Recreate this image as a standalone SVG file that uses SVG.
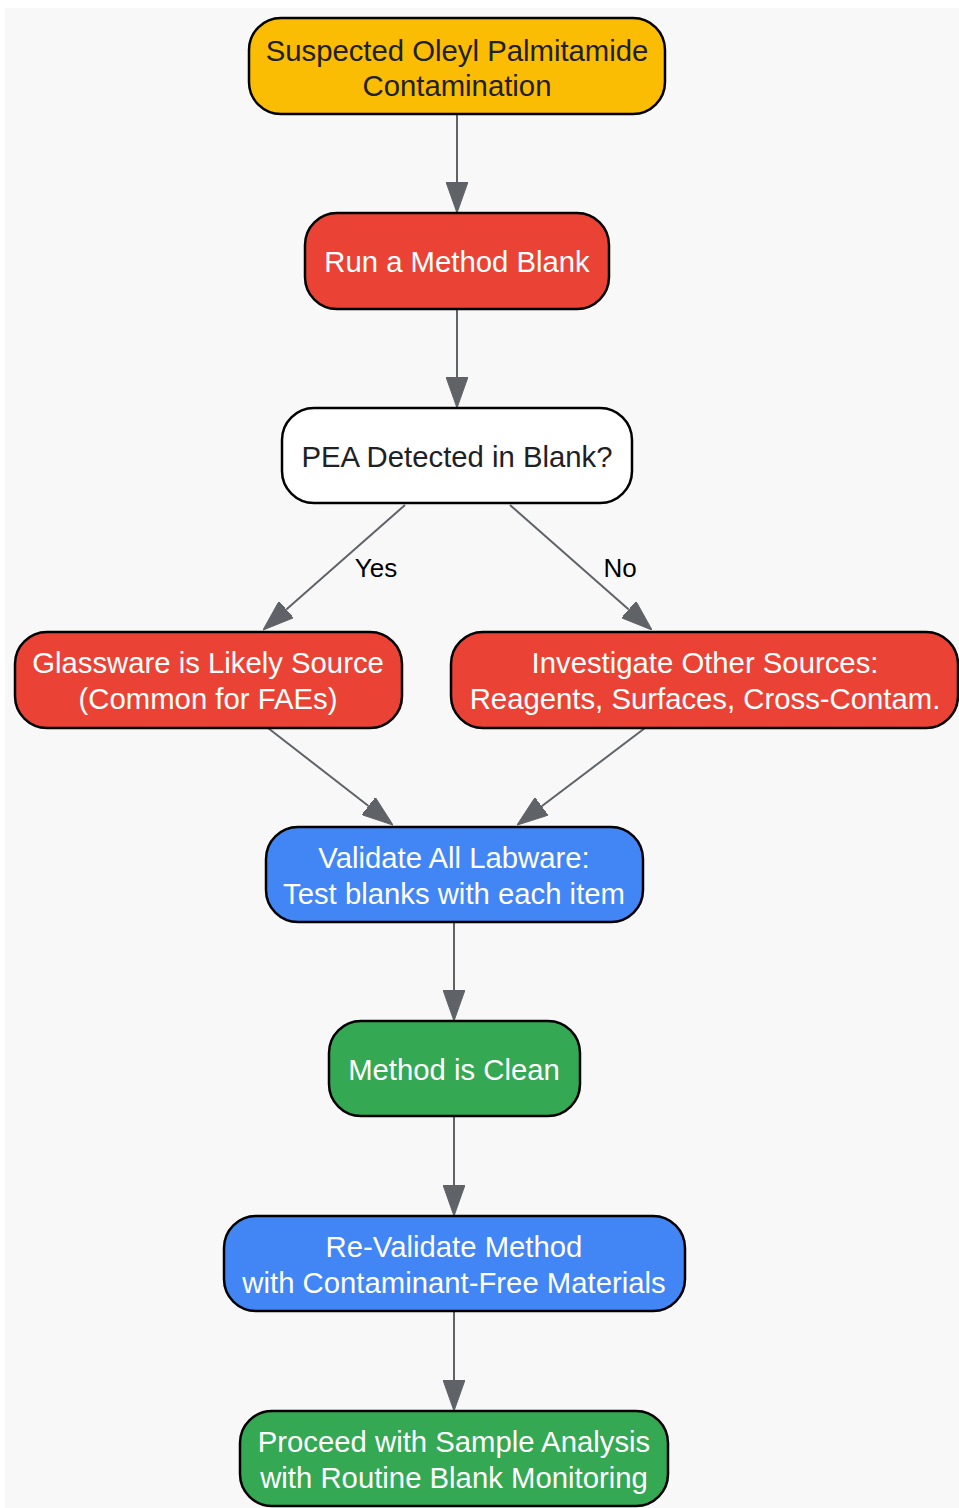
<svg xmlns="http://www.w3.org/2000/svg" width="959" height="1508" viewBox="0 0 959 1508">
<style>
.node rect{stroke:#000;stroke-width:2.5}
.t{font-family:"Liberation Sans",Arial,sans-serif;font-size:29.3px;text-anchor:middle}
.w{fill:#fff}
.d{fill:#202124}
.lbl{font-family:"Liberation Sans",Arial,sans-serif;font-size:26px;text-anchor:middle;fill:#000}
.e{stroke:#5f6368;stroke-width:2;fill:none}
</style>
<defs>
<marker id="ah" viewBox="0 0 31 22" refX="0" refY="11" markerWidth="31" markerHeight="22" markerUnits="userSpaceOnUse" orient="auto">
<path d="M0,0 L31,11 L0,22 Z" fill="#5f6368" stroke="#5f6368" stroke-width="1"/>
</marker>
</defs>
<rect x="0" y="0" width="959" height="1508" fill="#fff"/>
<rect x="5" y="8" width="954" height="1500" fill="#f8f8f8"/>
<g id="connectors">
<line class="e" x1="457" y1="114" x2="457" y2="182" marker-end="url(#ah)"/>
<line class="e" x1="457" y1="309" x2="457" y2="377" marker-end="url(#ah)"/>
<line class="e" x1="405" y1="505" x2="286.3" y2="609.5" marker-end="url(#ah)"/>
<line class="e" x1="510" y1="505" x2="628.7" y2="609.5" marker-end="url(#ah)"/>
<line class="e" x1="268" y1="728" x2="368.5" y2="806" marker-end="url(#ah)"/>
<line class="e" x1="645" y1="728" x2="541.7" y2="806.3" marker-end="url(#ah)"/>
<line class="e" x1="454" y1="922" x2="454" y2="990" marker-end="url(#ah)"/>
<line class="e" x1="454" y1="1116" x2="454" y2="1185" marker-end="url(#ah)"/>
<line class="e" x1="454" y1="1311" x2="454" y2="1380" marker-end="url(#ah)"/>
<text class="lbl" x="376" y="577">Yes</text>
<text class="lbl" x="620" y="577">No</text>
</g>
<g id="n1" class="node"><rect x="249" y="18" width="416" height="96" rx="32" fill="#fbbc04"/><text class="t d" x="457" y="61">Suspected Oleyl Palmitamide</text><text class="t d" x="457" y="96">Contamination</text></g>
<g id="n2" class="node"><rect x="305" y="213" width="304" height="96" rx="32" fill="#ea4335"/><text class="t w" x="457" y="272">Run a Method Blank</text></g>
<g id="n3" class="node"><rect x="282" y="408" width="350" height="95" rx="32" fill="#fff"/><text class="t d" x="457" y="467">PEA Detected in Blank?</text></g>
<g id="n4" class="node"><rect x="15" y="632" width="387" height="96" rx="32" fill="#ea4335"/><text class="t w" x="208" y="673">Glassware is Likely Source</text><text class="t w" x="208" y="709">(Common for FAEs)</text></g>
<g id="n5" class="node"><rect x="451" y="632" width="507" height="96" rx="32" fill="#ea4335"/><text class="t w" x="705" y="673">Investigate Other Sources:</text><text class="t w" x="705" y="709">Reagents, Surfaces, Cross-Contam.</text></g>
<g id="n6" class="node"><rect x="266" y="827" width="377" height="95" rx="32" fill="#4285f4"/><text class="t w" x="454" y="868">Validate All Labware:</text><text class="t w" x="454" y="904">Test blanks with each item</text></g>
<g id="n7" class="node"><rect x="329" y="1021" width="251" height="95" rx="32" fill="#34a853"/><text class="t w" x="454" y="1080">Method is Clean</text></g>
<g id="n8" class="node"><rect x="224" y="1216" width="461" height="95" rx="32" fill="#4285f4"/><text class="t w" x="454" y="1257">Re-Validate Method</text><text class="t w" x="454" y="1293">with Contaminant-Free Materials</text></g>
<g id="n9" class="node"><rect x="240" y="1411" width="428" height="95" rx="32" fill="#34a853"/><text class="t w" x="454" y="1452">Proceed with Sample Analysis</text><text class="t w" x="454" y="1488">with Routine Blank Monitoring</text></g>
</svg>
